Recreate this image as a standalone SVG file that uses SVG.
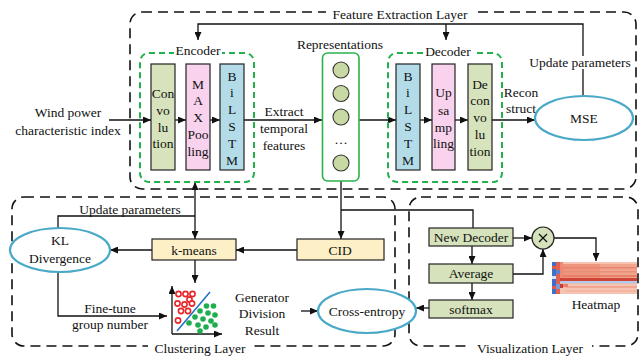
<svg xmlns="http://www.w3.org/2000/svg" width="641" height="358" viewBox="0 0 641 358" font-family="'Liberation Serif', 'Times New Roman', serif">
  <defs>
    <style>
      text { font-family: "Liberation Serif", "Times New Roman", serif; font-size: 13.5px; fill: #111; text-anchor: middle; }
      .layer { fill: none; stroke: #111; stroke-width: 1.6; stroke-dasharray: 10 6; }
      .group { fill: none; stroke: #22b14c; stroke-width: 2; stroke-dasharray: 6 4; }
      .blk { stroke: #222; stroke-width: 1.2; }
      .olive { fill: #d7e3bc; }
      .pink { fill: #f9d2ee; }
      .sky { fill: #b4dce8; }
      .sand { fill: #fdefc6; stroke: #222; stroke-width: 1.2; }
      .loss { fill: #fff; stroke: #4aa9c7; stroke-width: 2.2; }
      .unit { fill: #c8d9a3; stroke: #333; stroke-width: 1.1; }
      .vbox { fill: #d5e2bc; stroke: #222; stroke-width: 1.2; }
      .line { fill: none; stroke: #111; stroke-width: 1.3; }
      .arr { marker-end: url(#ah); }
      .bg { fill: #fff; }
      .red { fill: #fff; stroke: #e8262a; stroke-width: 1.6; }
      .grn { fill: #1fae4e; }
    </style>
    <marker id="ah" viewBox="0 0 8 7" refX="8" refY="3.5" markerWidth="8" markerHeight="7" markerUnits="userSpaceOnUse" orient="auto-start-reverse">
      <path d="M0,0 L8,3.5 L0,7 z" fill="#111"/>
    </marker>
  </defs>

  <!-- layer frames -->
  <g id="feature-extraction-layer">
    <rect class="layer" x="130" y="12" width="506" height="177" rx="12"/>
    <rect class="bg" x="326" y="5" width="148" height="16"/>
    <text x="400" y="18.5">Feature Extraction Layer</text>
  </g>
  <g id="clustering-layer">
    <rect class="layer" x="12" y="197" width="383" height="149" rx="12"/>
    <rect class="bg" x="148" y="340" width="104" height="16"/>
    <text x="200" y="352.5">Clustering Layer</text>
  </g>
  <g id="visualization-layer">
    <rect class="layer" x="409" y="197" width="229" height="149" rx="12"/>
    <rect class="bg" x="468" y="340" width="124" height="16"/>
    <text x="530" y="352.5">Visualization Layer</text>
  </g>

  <!-- connectors -->
  <g id="connectors">
    <!-- input and encoder chain -->
    <line class="line arr" x1="109" y1="120" x2="151" y2="120"/>
    <line class="line arr" x1="175" y1="120" x2="186" y2="120"/>
    <line class="line arr" x1="210" y1="120" x2="220" y2="120"/>
    <line class="line arr" x1="244" y1="120" x2="322" y2="120"/>
    <!-- decoder chain -->
    <line class="line arr" x1="359" y1="120" x2="396" y2="120"/>
    <line class="line arr" x1="420" y1="120" x2="432" y2="120"/>
    <line class="line arr" x1="455" y1="120" x2="468" y2="120"/>
    <line class="line arr" x1="492" y1="120" x2="535" y2="120"/>
    <!-- MSE feedback to encoder and decoder -->
    <polyline class="line" points="583,96 583,69"/>
    <polyline class="line arr" points="583,56 583,24 198,24 198,40"/>
    <line class="line arr" x1="446" y1="24" x2="446" y2="40"/>
    <!-- encoder <-> k-means -->
    <line class="line" x1="195" y1="182" x2="195" y2="239" marker-start="url(#ah)" marker-end="url(#ah)"/>
    <polyline class="line" points="58,228 58,216 195,216"/>
    <!-- k-means to KL, CID to k-means -->
    <line class="line arr" x1="152" y1="250" x2="110" y2="250"/>
    <line class="line arr" x1="297" y1="250" x2="236" y2="250"/>
    <!-- representations down to CID and new decoder -->
    <polyline class="line arr" points="341,181 341,239"/>
    <polyline class="line" points="341,210 473,210 473,228"/>
    <!-- k-means to scatter -->
    <line class="line arr" x1="195" y1="260" x2="195" y2="283"/>
    <!-- KL to scatter -->
    <polyline class="line arr" points="58,272 58,316 167,316"/>
    <!-- division result to cross-entropy -->
    <line class="line arr" x1="301" y1="311" x2="318" y2="311"/>
    <!-- visualization flow -->
    <line class="line arr" x1="472" y1="246" x2="472" y2="264"/>
    <line class="line arr" x1="472" y1="283" x2="472" y2="300"/>
    <line class="line arr" x1="429" y1="308" x2="416" y2="308"/>
    <line class="line arr" x1="513" y1="238" x2="532" y2="238"/>
    <polyline class="line arr" points="513,274 543,274 543,249"/>
    <polyline class="line arr" points="554,238 596,238 596,261"/>
  </g>

  <!-- input label -->
  <g id="input">
    <text x="68" y="116.5">Wind power</text>
    <text x="68" y="134.5">characteristic index</text>
  </g>

  <!-- encoder -->
  <g id="encoder">
    <rect class="group" x="140" y="53" width="114" height="129" rx="9"/>
    <rect class="bg" x="174" y="43" width="48" height="14"/>
    <text x="198" y="55">Encoder</text>
  </g>
  <g id="enc-convolution">
    <rect class="blk olive" x="151" y="64" width="24" height="106"/>
    <text x="163" y="97.5">Con</text>
    <text x="163" y="114.5">vo</text>
    <text x="163" y="131.5">lu</text>
    <text x="163" y="148">tion</text>
  </g>
  <g id="enc-maxpooling">
    <rect class="blk pink" x="186" y="64" width="24" height="106"/>
    <text x="198" y="88.5">M</text>
    <text x="198" y="105">A</text>
    <text x="198" y="122">X</text>
    <text x="198" y="139">Poo</text>
    <text x="198" y="156">ling</text>
  </g>
  <g id="enc-bilstm">
    <rect class="blk sky" x="220" y="64" width="24" height="106"/>
    <text x="232" y="80.5">B</text>
    <text x="232" y="97">i</text>
    <text x="232" y="114">L</text>
    <text x="232" y="131">S</text>
    <text x="232" y="148">T</text>
    <text x="232" y="165">M</text>
  </g>
  <g id="extract-label">
    <text x="284" y="115.5">Extract</text>
    <text x="284" y="132.5">temporal</text>
    <text x="284" y="149.5">features</text>
  </g>

  <!-- representations -->
  <g id="representations">
    <text x="340" y="48.5">Representations</text>
    <rect x="322.5" y="53" width="36.5" height="128" rx="5" fill="#fff" stroke="#2db34a" stroke-width="1.6"/>
    <circle class="unit" cx="341" cy="70" r="8"/>
    <circle class="unit" cx="341" cy="93.5" r="8"/>
    <circle class="unit" cx="341" cy="117" r="8"/>
    <text x="341" y="147">···</text>
    <circle class="unit" cx="341" cy="163" r="8"/>
  </g>

  <!-- decoder -->
  <g id="decoder">
    <rect class="group" x="388" y="53" width="114" height="129" rx="9"/>
    <rect class="bg" x="423" y="44" width="50" height="14"/>
    <text x="448" y="56">Decoder</text>
  </g>
  <g id="dec-bilstm">
    <rect class="blk sky" x="396" y="64" width="24" height="106"/>
    <text x="408" y="80.5">B</text>
    <text x="408" y="97">i</text>
    <text x="408" y="114">L</text>
    <text x="408" y="131">S</text>
    <text x="408" y="148">T</text>
    <text x="408" y="165">M</text>
  </g>
  <g id="dec-upsampling">
    <rect class="blk pink" x="432" y="64" width="23" height="106"/>
    <text x="443.5" y="96.5">Up</text>
    <text x="443.5" y="114.5">sa</text>
    <text x="443.5" y="131.5">mp</text>
    <text x="443.5" y="148">ling</text>
  </g>
  <g id="dec-deconvolution">
    <rect class="blk olive" x="468" y="64" width="24" height="106"/>
    <text x="480" y="88.5">De</text>
    <text x="480" y="105">con</text>
    <text x="480" y="122">vo</text>
    <text x="480" y="139">lu</text>
    <text x="480" y="156">tion</text>
  </g>
  <g id="reconstruct-label">
    <text x="521" y="96.5">Recon</text>
    <text x="521" y="112.5">struct</text>
  </g>

  <!-- loss -->
  <g id="mse">
    <ellipse class="loss" cx="584" cy="118" rx="49" ry="22"/>
    <text x="584" y="122.5">MSE</text>
  </g>
  <g id="update-top">
    <text x="580" y="66.5">Update parameters</text>
  </g>

  <!-- clustering layer nodes -->
  <g id="update-cluster">
    <text x="130" y="213.5">Update parameters</text>
  </g>
  <g id="kl-divergence">
    <ellipse class="loss" cx="60" cy="250" rx="50" ry="22"/>
    <text x="60" y="244.5">KL</text>
    <text x="60" y="262.5">Divergence</text>
  </g>
  <g id="k-means">
    <rect class="sand" x="152" y="239" width="84" height="21"/>
    <text x="194" y="254.5">k-means</text>
  </g>
  <g id="cid">
    <rect class="sand" x="297" y="239" width="87" height="21"/>
    <text x="340" y="254.5">CID</text>
  </g>
  <g id="fine-tune-label">
    <text x="110" y="312.5">Fine-tune</text>
    <text x="110" y="328.5">group number</text>
  </g>
  <g id="scatter">
    <line class="line arr" x1="172" y1="334" x2="172" y2="286"/>
    <line class="line arr" x1="172" y1="334" x2="222" y2="334"/>
    <line x1="177" y1="331" x2="210" y2="292" stroke="#1f6fc9" stroke-width="1.5"/>
    <g>
      <circle class="red" cx="178.5" cy="294" r="2.6"/>
      <circle class="red" cx="185.5" cy="294" r="2.6"/>
      <circle class="red" cx="192.5" cy="294" r="2.6"/>
      <circle class="red" cx="189.5" cy="299.5" r="2.6"/>
      <circle class="red" cx="177.5" cy="303.5" r="2.6"/>
      <circle class="red" cx="184.5" cy="304.5" r="2.6"/>
      <circle class="red" cx="192" cy="303.5" r="2.6"/>
      <circle class="red" cx="181" cy="311" r="2.6"/>
      <circle class="red" cx="188" cy="311" r="2.6"/>
      <circle class="red" cx="178" cy="320.5" r="2.6"/>
    </g>
    <g>
      <circle class="grn" cx="206.5" cy="306" r="2.8"/>
      <circle class="grn" cx="213.5" cy="306" r="2.8"/>
      <circle class="grn" cx="200" cy="311" r="2.8"/>
      <circle class="grn" cx="208" cy="313" r="2.8"/>
      <circle class="grn" cx="215" cy="315" r="2.8"/>
      <circle class="grn" cx="195" cy="317" r="2.8"/>
      <circle class="grn" cx="203" cy="319" r="2.8"/>
      <circle class="grn" cx="211" cy="321" r="2.8"/>
      <circle class="grn" cx="189" cy="323" r="2.8"/>
      <circle class="grn" cx="198" cy="325" r="2.8"/>
      <circle class="grn" cx="206" cy="327" r="2.8"/>
      <circle class="grn" cx="215" cy="325" r="2.8"/>
      <circle class="grn" cx="200" cy="331" r="2.8"/>
    </g>
  </g>
  <g id="division-result-label">
    <text x="262" y="301.5">Generator</text>
    <text x="262" y="318">Division</text>
    <text x="262" y="334.5">Result</text>
  </g>
  <g id="cross-entropy">
    <ellipse class="loss" cx="367" cy="311" rx="49" ry="22"/>
    <text x="367" y="315.5">Cross-entropy</text>
  </g>

  <!-- visualization layer nodes -->
  <g id="new-decoder">
    <rect class="vbox" x="429" y="228" width="84" height="18"/>
    <text x="471" y="241.5">New Decoder</text>
  </g>
  <g id="average">
    <rect class="vbox" x="429" y="264" width="84" height="19"/>
    <text x="471" y="278">Average</text>
  </g>
  <g id="softmax">
    <rect class="vbox" x="429" y="300" width="84" height="18"/>
    <text x="471" y="313.5">softmax</text>
  </g>
  <g id="multiply">
    <circle cx="543" cy="238" r="11" fill="#d5e2bc" stroke="#222" stroke-width="1.2"/>
    <path d="M539,234 L547,242 M547,234 L539,242" stroke="#111" stroke-width="1.3"/>
  </g>
  <g id="heatmap">
    <!-- base field, warmer on the left -->
    <rect x="552" y="262" width="85" height="32" fill="#f0a08a"/>
    <rect x="560" y="264" width="40" height="14" fill="#ee957e"/>
    <rect x="600" y="264" width="37" height="14" fill="#f1a48e"/>
    <rect x="552" y="262" width="85" height="2" fill="#f6c3b3"/>
    <rect x="560" y="267" width="77" height="1.5" fill="#ea8670"/>
    <rect x="560" y="271" width="77" height="1.5" fill="#ec8f79"/>
    <rect x="560" y="275" width="77" height="2" fill="#e77f69"/>
    <rect x="556" y="278" width="81" height="3" fill="#cf4436"/>
    <rect x="556" y="281" width="81" height="2.5" fill="#b3cbea"/>
    <rect x="556" y="283.5" width="81" height="10.5" fill="#f5c3b2"/>
    <rect x="566" y="286" width="71" height="2" fill="#f0a58f"/>
    <rect x="566" y="290" width="71" height="2" fill="#f3b7a4"/>
    <!-- left columns -->
    <rect x="552" y="262" width="4" height="32" fill="#3f6fc8"/>
    <rect x="552" y="266" width="4" height="3" fill="#e05a48"/>
    <rect x="552" y="276" width="4" height="3" fill="#d9eaf6"/>
    <rect x="552" y="286" width="4" height="3" fill="#e05a48"/>
    <rect x="556" y="262" width="4" height="32" fill="#e2624f"/>
    <rect x="556" y="270" width="4" height="4" fill="#5b82cf"/>
    <rect x="556" y="284" width="4" height="5" fill="#7c9dd8"/>
    <rect x="560" y="262" width="3" height="16" fill="#ec8a74"/>
    <rect x="560" y="284" width="3" height="4" fill="#c93b33"/>
    <rect x="563" y="284" width="5" height="3" fill="#ea7e6a"/>
  </g>
  <g id="heatmap-label">
    <text x="596" y="308.5">Heatmap</text>
  </g>
</svg>
